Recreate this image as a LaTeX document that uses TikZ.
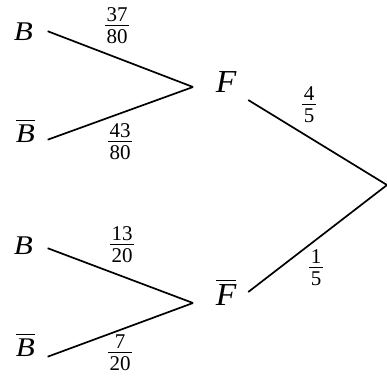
\documentclass[tikz,border=0pt]{standalone}
\usepackage{amsmath}
\usepackage{fontspec}
\setmainfont{Liberation Serif}
\usetikzlibrary{positioning}
\newcommand{\evB}[1]{\hbox{\scalebox{1.15}[1]{\fontsize{27}{30}\selectfont\itshape #1}}}
\newcommand{\evF}[1]{\hbox{\scalebox{1.05}[1]{\fontsize{32}{34}\selectfont\itshape #1}}}
\newcommand{\pr}[2]{\setlength{\tabcolsep}{1.5pt}%
  \begin{tabular}{c}#1\\[-3pt]\hline\noalign{\vskip2pt}#2\end{tabular}}

\begin{document}
\begin{tikzpicture}[x=1pt,y=-1pt,line width=1.7pt]
  \tikzstyle{event}=[font=\fontsize{27}{30}\selectfont,anchor=base west,inner sep=0pt]
  \tikzstyle{prob}=[font=\fontsize{21}{22}\selectfont,inner sep=0pt]
  \useasboundingbox (0,0) rectangle (387,380);
  \coordinate (root) at (387,185);
  % second stage
  \node[event] (F) at (215,92) {$\evF{F}$};
  \node[event] (Fb) at (215,305) {$\overline{\evF{F}}$};
  % first stage
  \node[event] (B1) at (13,40) {$\evB{B}$};
  \node[event] (Bb1) at (15,142) {$\overline{\evB{B}}$};
  \node[event] (B2) at (13,254) {$\evB{B}$};
  \node[event] (Bb2) at (15,356) {$\overline{\evB{B}}$};
  \draw ([xshift=11pt,yshift=-8pt]F.base east) -- (root);
  \draw ([xshift=11pt,yshift=13pt]Fb.base east) -- (root);
  \draw ([xshift=14pt]B1.east) -- ([xshift=-22pt,yshift=5pt]F.base west);
  \draw ([xshift=12pt]Bb1.mid east) -- ([xshift=-22pt,yshift=5pt]F.base west);
  \draw ([xshift=14pt,yshift=-3pt]B2.east) -- ([xshift=-22pt,yshift=2pt]Fb.base west);
  \draw ([xshift=12pt,yshift=-3pt]Bb2.mid east) -- ([xshift=-22pt,yshift=2pt]Fb.base west);
  \node[prob] (pF) at (309,107) {\pr{4}{5}};
  \node[prob] (pFb) at (316,270) {\pr{1}{5}};
  \node[prob] (pB1) at (117,28) {\pr{37}{80}};
  \node[prob] (pBb1) at (120,144) {\pr{43}{80}};
  \node[prob] (pB2) at (122,247) {\pr{13}{20}};
  \node[prob] (pBb2) at (120,355) {\pr{7}{20}};
\end{tikzpicture}
\end{document}
